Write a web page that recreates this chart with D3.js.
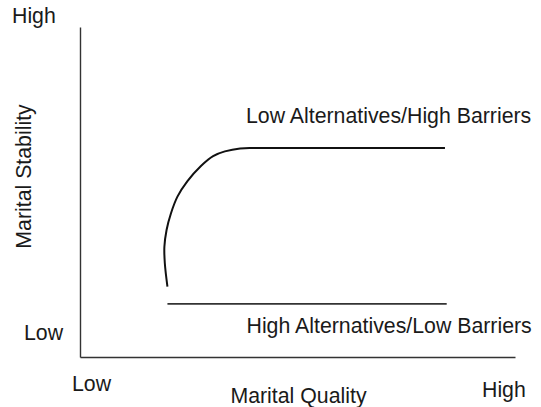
<!DOCTYPE html>
<html>
<head>
<meta charset="utf-8">
<script src="https://cdn.jsdelivr.net/npm/d3@7"></script>
<style>
  html, body { margin: 0; padding: 0; background: #fff; }
  text { font-family: "Liberation Sans", Arial, Helvetica, sans-serif; fill: #1a1a1a; }
</style>
</head>
<body>
<svg id="chart" width="541" height="407"></svg>
<script>
// Conceptual scale 0 (Low) .. 100 (High) on both axes
const axisEnds = ["Low", "High"];
const xTitle = "Marital Quality";
const yTitle = "Marital Stability";

// Series 1: Low Alternatives / High Barriers (curve rising then flat)
const lowAltQuality   = [20.1, 19.5, 19.4, 19.9, 20.9, 22.4, 24.7, 27.8, 30.6, 33.3, 36.8, 41.4, 83.9];
const lowAltStability = [21.3, 28.4, 33.4, 38.5, 43.5, 48.6, 53.3, 57.9, 60.9, 62.3, 63.2, 63.3, 63.3];
const lowAltLabel = "Low Alternatives/High Barriers";

// Series 2: High Alternatives / Low Barriers (flat, low)
const highAltQuality   = [20.1, 84.3];
const highAltStability = [16.1, 16.1];
const highAltLabel = "High Alternatives/Low Barriers";

const svg = d3.select("#chart");
const x = d3.scaleLinear().domain([0, 100]).range([80, 515]);
const y = d3.scaleLinear().domain([0, 100]).range([357, 27]);

// axes (domain lines only)
svg.append("g").attr("transform", `translate(0,${y(0)})`)
  .call(d3.axisBottom(x).ticks(0).tickSizeOuter(0))
  .call(g => g.select(".domain").attr("stroke", "#333").attr("stroke-width", 1.4));
svg.append("g").attr("transform", `translate(${x(0)},0)`)
  .call(d3.axisLeft(y).ticks(0).tickSizeOuter(0))
  .call(g => g.select(".domain").attr("stroke", "#333").attr("stroke-width", 1.4));

const s1 = lowAltQuality.map((q, i) => [q, lowAltStability[i]]);
svg.append("path")
  .attr("d", d3.line().x(d => x(d[0])).y(d => y(d[1])).curve(d3.curveCatmullRom.alpha(0.5))(s1))
  .attr("fill", "none").attr("stroke", "#111").attr("stroke-width", 2);

const s2 = highAltQuality.map((q, i) => [q, highAltStability[i]]);
svg.append("path")
  .attr("d", d3.line().x(d => x(d[0])).y(d => y(d[1]))(s2))
  .attr("fill", "none").attr("stroke", "#333").attr("stroke-width", 1.6);

const fs = "21.3px";
// series labels
svg.append("text").attr("x", 246).attr("y", 123).style("font-size", fs).text(lowAltLabel);
svg.append("text").attr("x", 246.5).attr("y", 333).style("font-size", fs).text(highAltLabel);

// axis end labels
svg.append("text").attr("x", 12).attr("y", 23).style("font-size", fs).text(axisEnds[1]);
svg.append("text").attr("x", 24).attr("y", 340).style("font-size", fs).text(axisEnds[0]);
svg.append("text").attr("x", 72).attr("y", 390.5).style("font-size", fs).text(axisEnds[0]);
svg.append("text").attr("x", 482).attr("y", 396.5).style("font-size", fs).text(axisEnds[1]);

// axis titles
svg.append("text").attr("x", 298.5).attr("y", 403).attr("text-anchor", "middle")
  .style("font-size", fs).text(xTitle);
svg.append("text").attr("transform", "translate(31,176.5) rotate(-90)")
  .attr("text-anchor", "middle").style("font-size", fs).text(yTitle);
</script>
</body>
</html>
